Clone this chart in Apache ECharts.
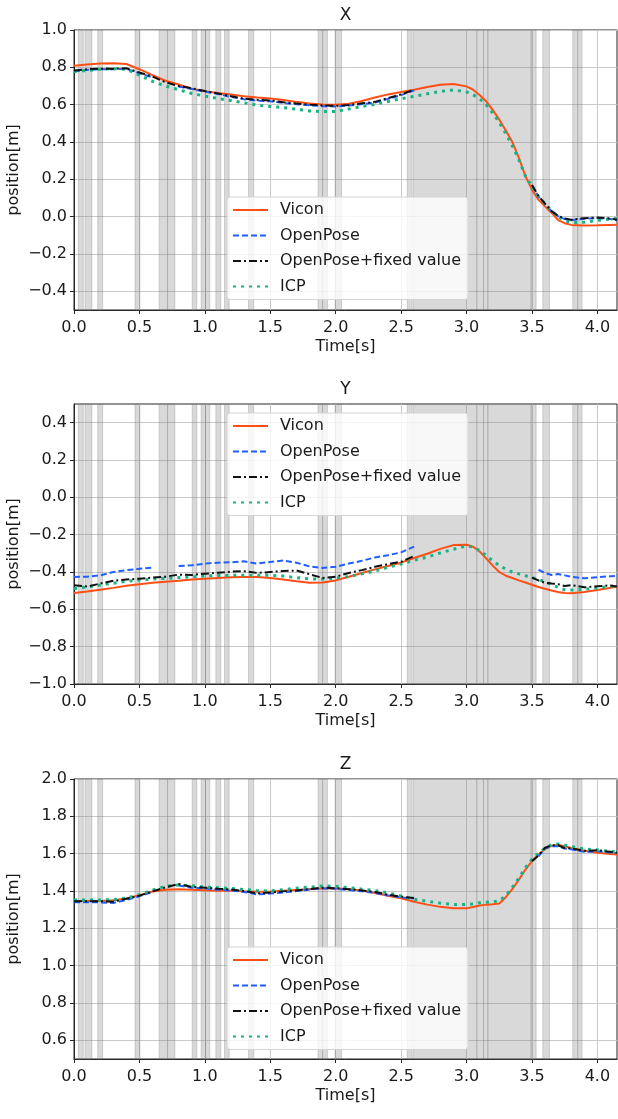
<!DOCTYPE html>
<html><head><meta charset="utf-8">
<script src="https://cdn.jsdelivr.net/npm/echarts@6/dist/echarts.min.js"></script>
<style>html,body{margin:0;padding:0;background:#fff}#c{width:618px;height:1119px}</style>
</head><body><div id="c"></div><script>
// shared time grid [s]
const T = [0,0.1,0.2,0.3,0.4,0.5,0.6,0.7,0.8,0.9,1.0,1.1,1.2,1.3,1.4,1.5,1.6,1.7,1.8,1.9,2.0,2.1,2.2,2.3,2.4,2.5,2.6,2.7,2.8,2.9,3.0,
  3.05,3.1,3.15,3.2,3.25,3.3,3.35,3.4,3.45,3.5,3.55,3.6,3.65,3.7,3.75,3.8,3.9,4.0,4.1,4.15];
const N = null;
// X
const xVicon = [0.809,0.815,0.82,0.822,0.818,0.79,0.758,0.728,0.708,0.685,0.672,0.663,0.654,0.645,0.638,0.633,0.625,0.615,0.606,0.601,0.600,0.605,0.62,0.638,0.655,0.668,0.68,0.695,0.707,0.711,0.698,
  0.68,0.652,0.618,0.572,0.52,0.462,0.40,0.315,0.218,0.145,0.09,0.055,0.02,-0.018,-0.035,-0.044,-0.047,-0.046,-0.044,-0.043];
const xOpenPose = [0.779,0.786,0.79,0.79,0.792,0.768,0.746,N,0.697,0.684,0.669,0.657,0.641,0.629,0.622,0.618,0.609,0.602,0.597,0.592,0.590,0.595,0.603,0.611,0.631,0.651,0.677,N,N,N,N,
  N,N,N,N,N,N,N,N,N,0.168,0.108,0.067,0.028,0.002,-0.013,-0.019,-0.011,-0.008,-0.013,-0.019];
const xFixed = [0.783,0.79,0.793,0.793,0.795,0.772,0.75,0.72,0.70,0.688,0.673,0.66,0.645,0.632,0.626,0.622,0.613,0.606,0.60,0.596,0.594,0.598,0.607,0.615,0.635,0.655,0.68,N,N,N,N,
  N,N,N,N,N,N,N,N,N,0.17,0.11,0.07,0.03,0.005,-0.01,-0.016,-0.008,-0.005,-0.01,-0.016];
const xICP = [0.778,0.783,0.79,0.793,0.79,0.758,0.725,0.70,0.68,0.66,0.646,0.633,0.622,0.61,0.598,0.59,0.584,0.576,0.566,0.563,0.563,0.577,0.59,0.602,0.617,0.632,0.645,0.658,0.671,0.679,0.668,
  0.653,0.632,0.60,0.555,0.505,0.445,0.38,0.305,0.218,0.162,0.108,0.07,0.03,0.0,-0.02,-0.032,-0.03,-0.02,-0.012,-0.01];
// Y
const yVicon = [-0.512,-0.505,-0.495,-0.485,-0.474,-0.466,-0.458,-0.452,-0.447,-0.44,-0.436,-0.432,-0.428,-0.427,-0.427,-0.432,-0.44,-0.45,-0.457,-0.456,-0.445,-0.425,-0.405,-0.386,-0.368,-0.35,-0.325,-0.302,-0.276,-0.256,-0.254,
  -0.265,-0.29,-0.327,-0.366,-0.40,-0.42,-0.432,-0.445,-0.456,-0.468,-0.48,-0.49,-0.499,-0.507,-0.512,-0.514,-0.507,-0.497,-0.484,-0.479];
const yOpenPose = [-0.427,-0.425,-0.418,-0.40,-0.39,-0.383,-0.376,N,-0.368,-0.364,-0.355,-0.35,-0.348,-0.343,-0.355,-0.346,-0.338,-0.35,-0.37,-0.378,-0.372,-0.355,-0.34,-0.322,-0.31,-0.295,-0.264,N,N,N,N,
  N,N,N,N,N,N,N,N,N,N,-0.388,-0.405,-0.416,-0.411,-0.418,-0.425,-0.434,-0.428,-0.423,-0.421];
const yFixed = [-0.471,-0.478,-0.462,-0.447,-0.44,-0.436,-0.43,-0.425,-0.414,-0.416,-0.409,-0.404,-0.398,-0.396,-0.405,-0.40,-0.395,-0.392,-0.412,-0.432,-0.425,-0.405,-0.39,-0.372,-0.358,-0.345,-0.314,N,N,N,N,
  N,N,N,N,N,N,N,N,N,-0.43,-0.445,-0.458,-0.462,-0.465,-0.475,-0.47,-0.482,-0.476,-0.472,-0.478];
const yICP = [-0.489,-0.48,-0.47,-0.46,-0.45,-0.443,-0.438,-0.434,-0.43,-0.426,-0.421,-0.419,-0.418,-0.418,-0.418,-0.418,-0.422,-0.43,-0.437,-0.438,-0.433,-0.425,-0.41,-0.395,-0.375,-0.357,-0.337,-0.32,-0.298,-0.278,-0.261,
  -0.265,-0.285,-0.312,-0.34,-0.365,-0.385,-0.40,-0.41,-0.42,-0.43,-0.44,-0.452,-0.468,-0.482,-0.495,-0.497,-0.493,-0.485,-0.477,-0.475];
// Z
const zVicon = [1.346,1.346,1.346,1.35,1.36,1.378,1.397,1.407,1.409,1.407,1.404,1.402,1.401,1.398,1.396,1.397,1.401,1.406,1.41,1.413,1.414,1.41,1.403,1.389,1.375,1.361,1.342,1.327,1.315,1.307,1.307,
  1.314,1.322,1.327,1.329,1.333,1.367,1.41,1.46,1.515,1.56,1.595,1.625,1.642,1.646,1.64,1.63,1.616,1.605,1.598,1.596];
const zOpenPose = [1.34,1.34,1.339,1.336,1.352,1.372,1.395,N,1.43,1.418,1.414,1.407,1.402,1.395,1.382,1.386,1.392,1.40,1.408,1.414,1.412,1.405,1.398,1.39,1.376,1.366,1.36,N,N,N,N,
  N,N,N,N,N,N,N,N,N,N,1.585,1.628,1.64,1.64,1.627,1.623,1.61,1.613,1.606,1.603];
const zFixed = [1.345,1.345,1.345,1.343,1.358,1.375,1.398,1.42,1.437,1.422,1.418,1.412,1.408,1.40,1.387,1.392,1.398,1.403,1.41,1.418,1.415,1.41,1.403,1.395,1.38,1.37,1.362,N,N,N,N,
  N,N,N,N,N,N,N,N,N,1.56,1.59,1.632,1.645,1.645,1.63,1.628,1.615,1.618,1.61,1.605];
const zICP = [1.352,1.352,1.352,1.354,1.362,1.38,1.405,1.425,1.432,1.428,1.421,1.418,1.414,1.408,1.402,1.40,1.407,1.415,1.421,1.427,1.425,1.418,1.41,1.402,1.39,1.373,1.355,1.345,1.335,1.328,1.327,
  1.33,1.337,1.34,1.342,1.348,1.375,1.42,1.47,1.525,1.57,1.603,1.63,1.648,1.652,1.645,1.638,1.625,1.62,1.612,1.61];
// shaded spans (frames where OpenPose failed) [s]
const bands = [[0.033,0.071],[0.084,0.137],[0.181,0.219],[0.466,0.504],[0.651,0.715],[0.715,0.771],[0.903,0.939],[0.972,1.005],[1.005,1.038],
  [1.084,1.122],[1.150,1.186],[1.334,1.374],[1.865,1.900],[1.900,1.937],[1.995,2.045],[2.547,2.585],[2.595,3.079],[3.079,3.130],[3.130,3.163],
  [3.163,3.494],[3.494,3.532],[3.583,3.634],[3.812,3.850],[3.850,3.883]];
const xTicks = [0,0.5,1.0,1.5,2.0,2.5,3.0,3.5,4.0];
const yTicksX = [-0.4,-0.2,0,0.2,0.4,0.6,0.8,1.0];
const yTicksY = [-1.0,-0.8,-0.6,-0.4,-0.2,0,0.2,0.4];
const yTicksZ = [0.6,0.8,1.0,1.2,1.4,1.6,1.8,2.0];
const titles = ['X','Y','Z'];
const names = ['Vicon','OpenPose','OpenPose+fixed value','ICP'];

const FONT = 'DejaVu Sans';
const TXT = '#1a1a1a';
const plots = [
  {top:30, min:-0.5, max:1.0, ticks:yTicksX, data:[xVicon,xOpenPose,xFixed,xICP], legendTop:197},
  {top:404, min:-1.0, max:0.5, ticks:yTicksY, data:[yVicon,yOpenPose,yFixed,yICP], legendTop:413},
  {top:779, min:0.5, max:2.0, ticks:yTicksZ, data:[zVicon,zOpenPose,zFixed,zICP], legendTop:947}
];
const styles = [
  {color:'#ff4f14', width:2, type:'solid'},
  {color:'#1f5fff', width:2, type:[6,3]},
  {color:'#111111', width:2, type:[8,3,2,3]},
  {color:'#17b386', width:3, type:[3,5]}
];
const fmt = v => { const a = Math.abs(v) < 1e-9 ? 0 : v; return (a < 0 ? '\u2212' : '') + Math.abs(a).toFixed(1); };

const grid = [], xAxis = [], yAxis = [], series = [], title = [], legend = [];
plots.forEach((p, i) => {
  grid.push({left:74, top:p.top, width:543, height:280, show:true, borderColor:'#262626', borderWidth:1,
    backgroundColor:'transparent', containLabel:false, outerBoundsMode:'none'});
  xAxis.push({type:'value', gridIndex:i, min:0, max:4.15,
    axisLine:{show:true, onZero:false, lineStyle:{color:'#262626', width:1}},
    axisTick:{show:true, inside:false, length:4, customValues:xTicks, lineStyle:{color:'#262626'}},
    axisLabel:{customValues:xTicks, formatter:fmt, fontSize:16, color:TXT, fontFamily:FONT, margin:10},
    splitLine:{show:true, lineStyle:{color:'#c9c9c9', width:1}},
    name:'Time[s]', nameLocation:'middle', nameGap:29, nameMoveOverlap:false, nameTextStyle:{fontSize:16, color:TXT, fontFamily:FONT}});
  yAxis.push({type:'value', gridIndex:i, min:p.min, max:p.max,
    axisLine:{show:true, onZero:false, lineStyle:{color:'#262626', width:1}},
    axisTick:{show:true, inside:false, length:4, customValues:p.ticks, lineStyle:{color:'#262626'}},
    axisLabel:{customValues:p.ticks, formatter:fmt, fontSize:16, color:TXT, fontFamily:FONT, margin:7},
    splitLine:{show:true, lineStyle:{color:'#c9c9c9', width:1}},
    name:'position[m]', nameLocation:'middle', nameGap:52, nameRotate:90, nameMoveOverlap:false, nameTextStyle:{fontSize:16, color:TXT, fontFamily:FONT}});
  title.push({text:titles[i], left:345.5, top:p.top - 23, textAlign:'center', padding:0,
    textStyle:{fontSize:17, fontWeight:'normal', color:TXT, fontFamily:FONT}});
  series.push({type:'line', name:'_bands'+i, xAxisIndex:i, yAxisIndex:i, data:[], z:1, silent:true, symbol:'none',
    markArea:{silent:true, itemStyle:{color:'rgba(128,128,128,0.3)', borderColor:'rgba(128,128,128,0.3)', borderWidth:1},
      data:bands.map(b => [{xAxis:b[0]}, {xAxis:b[1]}])}});
  names.forEach((nm, k) => {
    series.push({type:'line', name:nm, xAxisIndex:i, yAxisIndex:i, z:3 + (k === 2 ? 1 : 0),
      symbol:'none', showSymbol:false, connectNulls:false, animation:false,
      lineStyle:{color:styles[k].color, width:styles[k].width, type:styles[k].type, cap:'butt'},
      itemStyle:{color:styles[k].color},
      data:T.map((t, j) => [t, p.data[k][j] === null ? '-' : p.data[k][j]])});
  });
  legend.push({data:names, orient:'vertical', left:227, top:p.legendTop, itemWidth:35, itemHeight:14, itemGap:5.5,
    padding:[3,7,3,5], backgroundColor:'rgba(255,255,255,0.8)', borderColor:'#d4d4d4', borderWidth:1, borderRadius:3,
    itemStyle:{opacity:0},
    textStyle:{fontSize:16, color:TXT, fontFamily:FONT, lineHeight:20, padding:[0,0,0,7]}, selectedMode:false});
});

const chart = echarts.init(document.getElementById('c'), null, {renderer:'canvas'});
chart.setOption({animation:false, backgroundColor:'#ffffff', title, legend, grid, xAxis, yAxis, series});
</script></body></html>
